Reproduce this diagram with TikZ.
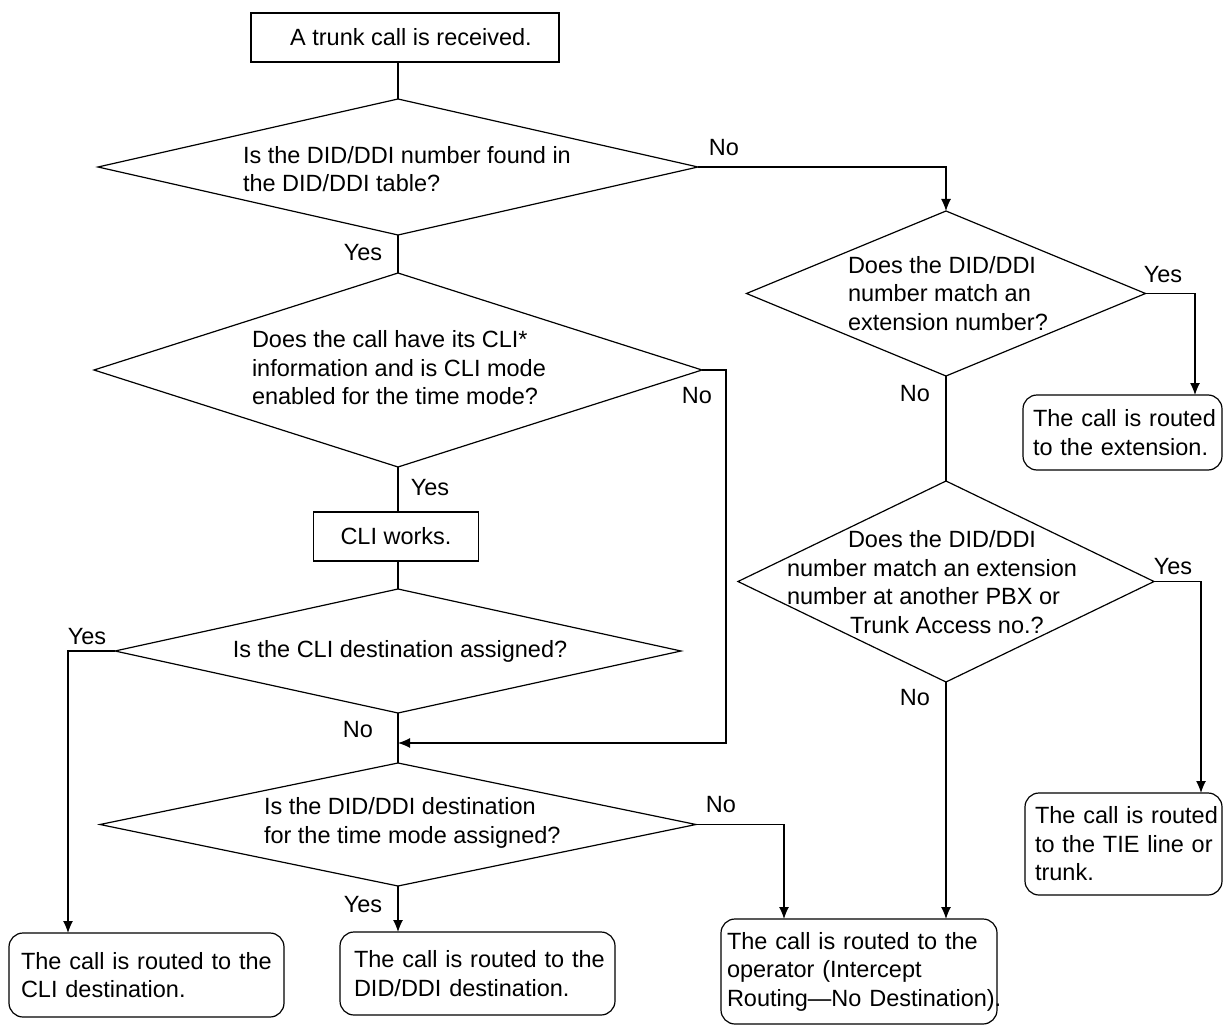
\documentclass[tikz,border=0pt]{standalone}
\usepackage{fontspec}
\setmainfont{Liberation Sans}
\usetikzlibrary{shapes.geometric,arrows.meta}
\begin{document}
\begin{tikzpicture}[x=1pt,y=-1pt,
  font=\fontsize{23.5}{28.5}\selectfont,
  every node/.style={outer sep=0pt},
  ln/.style={line width=1.2pt},
  arr/.style={line width=1.2pt,-{Latex[length=12pt,width=10pt]}},
  dia/.style={diamond,draw,line width=1.2pt,inner sep=0pt},
  sqbox/.style={draw,line width=1.2pt,inner sep=0pt},
  rbox/.style={draw,line width=1.2pt,rounded corners=14pt,align=left,inner ysep=0pt},
  dtxt/.style={inner sep=0pt,align=left},
  lbl/.style={inner sep=0pt}
]
\useasboundingbox (0,0) rectangle (1224,1027);

% process boxes
\node[sqbox,minimum width=308pt,minimum height=49pt] (top) at (405,37.5) {\hspace*{12pt}A trunk call is received.};
\node[sqbox,minimum width=165pt,minimum height=49pt] (cli) at (396,536.5) {CLI works.};

% decisions
\node[dia,minimum width=600pt,minimum height=136pt] (d1) at (398,167) {};
\node[dtxt,anchor=west] (d1t) at (243,169) {Is the DID/DDI number found in\\the DID/DDI table?};

\node[dia,minimum width=608pt,minimum height=194pt] (d2) at (398,370) {};
\node[dtxt,anchor=west] (d2t) at (252,368) {Does the call have its CLI*\\information and is CLI mode\\enabled for the time mode?};

\node[dia,minimum width=566pt,minimum height=124pt] (d3) at (398,651) {};
\node[dtxt] (d3t) at (400,651) {Is the CLI destination assigned?};

\node[dia,minimum width=596pt,minimum height=123pt] (d4) at (398,824.5) {};
\node[dtxt,anchor=west] (d4t) at (264,823) {Is the DID/DDI destination\\for the time mode assigned?};

\node[dia,minimum width=399pt,minimum height=165pt] (r1) at (946,293.5) {};
\node[dtxt,anchor=west] (r1t) at (848,293.5) {Does the DID/DDI\\number match an\\extension number?};

\node[dia,minimum width=416pt,minimum height=201pt] (r2) at (946,581.5) {};
\node[dtxt,anchor=west] (r2t) at (787,582) {\hspace*{61pt}Does the DID/DDI\\number match an extension\\number at another PBX or\\\hspace*{63pt}Trunk Access no.?};

% end boxes
\node[rbox,inner xsep=12pt,text width=251pt,minimum height=84pt] (clidest) at (146.5,975) {\mbox{The call is routed to the}\\CLI destination.};
\node[rbox,inner xsep=14pt,text width=247pt,minimum height=83pt] (diddest) at (477.5,973.5) {\mbox{The call is routed to the}\\DID/DDI destination.};
\node[rbox,inner xsep=6pt,text width=264pt,minimum height=105pt] (oper) at (859,971.5) {\mbox{The call is routed to the}\\\mbox{operator (Intercept}\\\mbox{Routing\textemdash No Destination).}};
\node[rbox,inner xsep=10pt,text width=179pt,minimum height=75pt] (ext) at (1122.5,432.5) {\mbox{The call is routed}\\\mbox{to the extension.}};
\node[rbox,inner xsep=10pt,text width=177pt,minimum height=102pt] (tie) at (1123.5,844) {\mbox{The call is routed}\\\mbox{to the TIE line or}\\trunk.};

\coordinate (j1) at (398,743);

% connectors
\draw[ln] (top.south -| d1.north) -- (d1.north);
\draw[arr] (d1.east) -| (r1.north);
\draw[ln] (d1.south) -- (d2.north);
\draw[ln] (d2.south) -- (d2.south |- cli.north);
\draw[ln] (d2.south |- cli.south) -- (d3.north);
\draw[arr] (d2.east) -- ++(24,0) |- (j1);
\draw[arr] (d3.west) -| ([xshift=-78.5pt]clidest.north);
\draw[ln] (d3.south) -- (d4.north);
\draw[arr] (d4.south) -- (d4.south |- diddest.north);
\draw[arr] (d4.east) -| ([xshift=-75pt]oper.north);
\draw[arr] (r1.east) -| ([xshift=72.5pt]ext.north);
\draw[ln] (r1.south) -- (r2.north);
\draw[arr] (r2.east) -| ([xshift=77.5pt]tie.north);
\draw[arr] (r2.south) -- (r2.south |- oper.north);

% labels
\node[lbl] (l1) at (724,148) {No};
\node[lbl] (l2) at (363,253) {Yes};
\node[lbl] (l3) at (697,396) {No};
\node[lbl] (l4) at (430,488) {Yes};
\node[lbl] (l5) at (87,637) {Yes};
\node[lbl] (l6) at (358,730) {No};
\node[lbl] (l7) at (721,805) {No};
\node[lbl] (l8) at (363,905) {Yes};
\node[lbl] (l9) at (1163,275) {Yes};
\node[lbl] (l10) at (915,394) {No};
\node[lbl] (l11) at (1173,567) {Yes};
\node[lbl] (l12) at (915,698) {No};
\end{tikzpicture}
\end{document}
